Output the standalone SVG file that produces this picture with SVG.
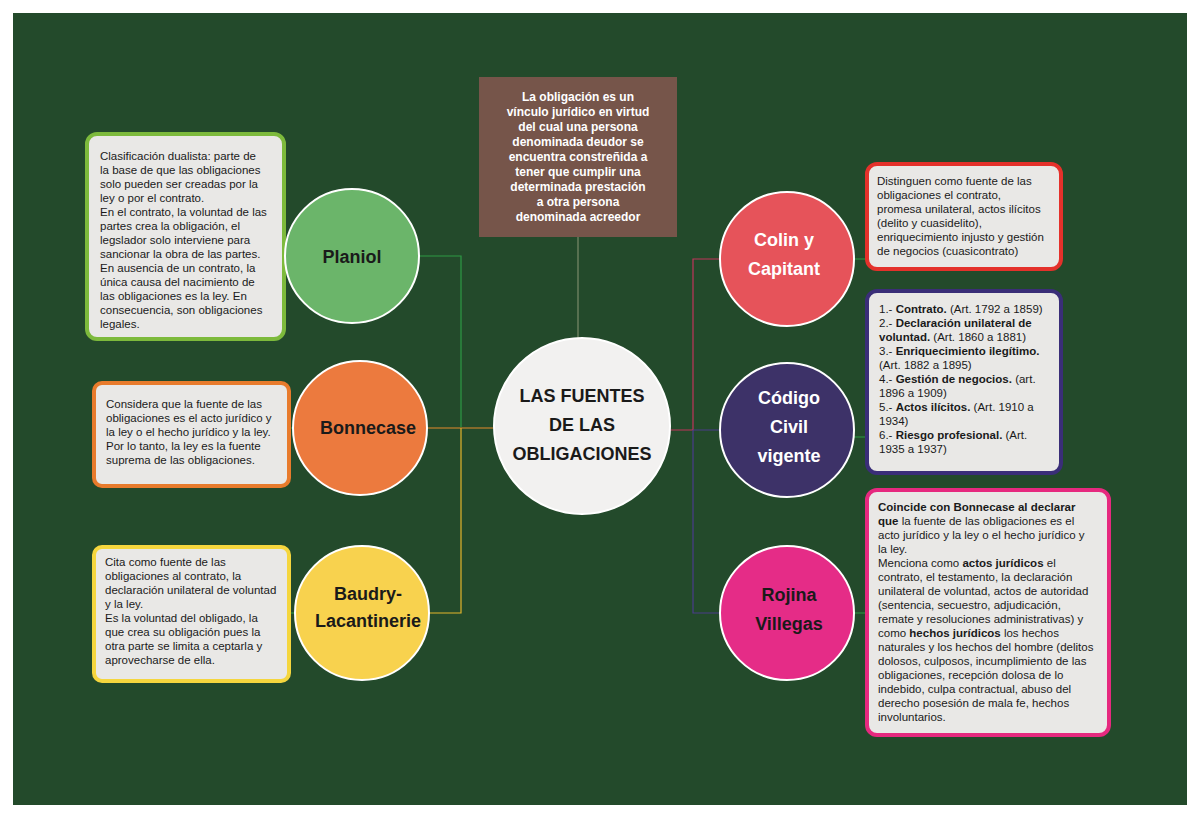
<svg xmlns="http://www.w3.org/2000/svg" width="1200" height="818" viewBox="0 0 1200 818">
<style>
.box{fill:#e9e8e6;stroke-width:4}
.t{font-family:"Liberation Sans",Arial,sans-serif;font-size:11.5px;fill:#1a1a1a}
.c{stroke:#fff;stroke-width:2}
.ct{font-family:"Liberation Sans",Arial,sans-serif;font-weight:bold;font-size:18px;text-anchor:middle}
.ln{fill:none;stroke-width:1.2}
b{font-weight:bold}
</style>
<rect width="1200" height="818" fill="#fff"/>
<rect x="13" y="13" width="1174" height="792" fill="#234a2b"/>
<g id="connectors">
<path class="ln" stroke="#7a8a6a" d="M578 237V338"/>
<path class="ln" stroke="#2e9a45" d="M419 256H461V427"/>
<path class="ln" stroke="#e38a2c" d="M427 428H494"/>
<path class="ln" stroke="#e3b52c" d="M461 428V613H429"/>
<path class="ln" stroke="#c0355a" d="M670 430H693V259H720"/>
<path class="ln" stroke="#4a3d8a" d="M693 430H720M693 430V613H720"/>
<path class="ln" stroke="#2e9a45" d="M285 256H300M290 428H293M290 613H295M854 259H866M854 437H866M854 613H866"/>
</g>
<g id="top"><rect x="479" y="77" width="198" height="160" fill="#76554a"/>
<text font-family="Liberation Sans,Arial,sans-serif" font-weight="bold" font-size="12px" fill="#fff" text-anchor="middle">
<tspan x="578" y="101">La obligación es un</tspan><tspan x="578" y="116">vínculo jurídico en virtud</tspan><tspan x="578" y="131">del cual una persona</tspan><tspan x="578" y="146">denominada deudor se</tspan><tspan x="578" y="161">encuentra constreñida a</tspan><tspan x="578" y="176">tener que cumplir una</tspan><tspan x="578" y="191">determinada prestación</tspan><tspan x="578" y="206">a otra persona</tspan><tspan x="578" y="221">denominada acreedor</tspan></text></g>
<g id="center"><circle class="c" cx="582" cy="426" r="88" fill="#f2f1f0"/>
<text class="ct" font-size="16px" fill="#1a1a1a"><tspan x="582" y="402">LAS FUENTES</tspan><tspan x="582" y="431">DE LAS</tspan><tspan x="582" y="460">OBLIGACIONES</tspan></text></g>
<g id="planiol"><rect class="box" x="87" y="134" width="197" height="205" rx="10" stroke="#7dba3c"/>
<text class="t"><tspan x="100" y="160">Clasificación dualista: parte de</tspan><tspan x="100" y="174">la base de que las obligaciones</tspan><tspan x="100" y="188">solo pueden ser creadas por la</tspan><tspan x="100" y="202">ley o por el contrato.</tspan><tspan x="100" y="216">En el contrato, la voluntad de las</tspan><tspan x="100" y="230">partes crea la obligación, el</tspan><tspan x="100" y="244">legslador solo interviene para</tspan><tspan x="100" y="258">sancionar la obra de las partes.</tspan><tspan x="100" y="272">En ausencia de un contrato, la</tspan><tspan x="100" y="286">única causa del nacimiento de</tspan><tspan x="100" y="300">las obligaciones es la ley. En</tspan><tspan x="100" y="314">consecuencia, son obligaciones</tspan><tspan x="100" y="328">legales.</tspan></text>
<circle class="c" cx="352" cy="256" r="67" fill="#6bb56a"/><text class="ct" x="352" y="263" fill="#1a1a1a">Planiol</text></g>
<g id="bonnecase"><rect class="box" x="94" y="383" width="195" height="103" rx="8" stroke="#e87b2c"/>
<text class="t"><tspan x="106" y="408">Considera que la fuente de las</tspan><tspan x="106" y="422">obligaciones es el acto jurídico y</tspan><tspan x="106" y="436">la ley o el hecho jurídico y la ley.</tspan><tspan x="106" y="450">Por lo tanto, la ley es la fuente</tspan><tspan x="106" y="464">suprema de las obligaciones.</tspan></text>
<circle class="c" cx="360" cy="428" r="67" fill="#ec7a3e"/><text class="ct" x="368" y="434" fill="#1a1a1a">Bonnecase</text></g>
<g id="baudry"><rect class="box" x="94" y="547" width="195" height="134" rx="8" stroke="#f5d63e"/>
<text class="t"><tspan x="105" y="566">Cita como fuente de las</tspan><tspan x="105" y="580">obligaciones al contrato, la</tspan><tspan x="105" y="594">declaración unilateral de voluntad</tspan><tspan x="105" y="608">y la ley.</tspan><tspan x="105" y="622">Es la voluntad del obligado, la</tspan><tspan x="105" y="636">que crea su obligación pues la</tspan><tspan x="105" y="650">otra parte se limita a ceptarla y</tspan><tspan x="105" y="664">aprovecharse de ella.</tspan></text>
<circle class="c" cx="362" cy="613" r="67" fill="#f8d24e"/><text class="ct" fill="#1a1a1a"><tspan x="368" y="600">Baudry-</tspan><tspan x="368" y="627">Lacantinerie</tspan></text></g>
<g id="colin"><rect class="box" x="867" y="164" width="194" height="105" rx="10" stroke="#e4312b"/>
<text class="t"><tspan x="877" y="185">Distinguen como fuente de las</tspan><tspan x="877" y="199">obligaciones el contrato,</tspan><tspan x="877" y="213">promesa unilateral, actos ilícitos</tspan><tspan x="877" y="227">(delito y cuasidelito),</tspan><tspan x="877" y="241">enriquecimiento injusto y gestión</tspan><tspan x="877" y="255">de negocios (cuasicontrato)</tspan></text>
<circle class="c" cx="787" cy="259" r="67" fill="#e6535a"/><text class="ct" fill="#fff"><tspan x="784" y="246">Colin y</tspan><tspan x="784" y="275">Capitant</tspan></text></g>
<g id="codigo"><rect class="box" x="867" y="291" width="194" height="182" rx="10" stroke="#3a2e78"/>
<text class="t"><tspan x="879" y="313">1.- <tspan font-weight="bold">Contrato.</tspan> (Art. 1792 a 1859)</tspan><tspan x="879" y="327">2.- <tspan font-weight="bold">Declaración unilateral de</tspan></tspan><tspan x="879" y="341" font-weight="bold">voluntad.<tspan font-weight="normal"> (Art. 1860 a 1881)</tspan></tspan><tspan x="879" y="355">3.- <tspan font-weight="bold">Enriquecimiento ilegítimo.</tspan></tspan><tspan x="879" y="369">(Art. 1882 a 1895)</tspan><tspan x="879" y="383">4.- <tspan font-weight="bold">Gestión de negocios.</tspan> (art.</tspan><tspan x="879" y="397">1896 a 1909)</tspan><tspan x="879" y="411">5.- <tspan font-weight="bold">Actos ilícitos.</tspan> (Art. 1910 a</tspan><tspan x="879" y="425">1934)</tspan><tspan x="879" y="439">6.- <tspan font-weight="bold">Riesgo profesional.</tspan> (Art.</tspan><tspan x="879" y="453">1935 a 1937)</tspan></text>
<circle class="c" cx="787" cy="430" r="67" fill="#3d3268"/><text class="ct" fill="#fff"><tspan x="789" y="404">Código</tspan><tspan x="789" y="433">Civil</tspan><tspan x="789" y="462">vigente</tspan></text></g>
<g id="rojina"><rect class="box" x="867" y="490" width="242" height="245" rx="10" stroke="#e6297f"/>
<text class="t"><tspan x="878" y="511" font-weight="bold">Coincide con Bonnecase al declarar</tspan><tspan x="878" y="525"><tspan font-weight="bold">que</tspan> la fuente de las obligaciones es el</tspan><tspan x="878" y="539">acto jurídico y la ley o el hecho jurídico y</tspan><tspan x="878" y="553">la ley.</tspan><tspan x="878" y="567">Menciona como  <tspan font-weight="bold">actos jurídicos</tspan> el</tspan><tspan x="878" y="581">contrato, el testamento, la declaración</tspan><tspan x="878" y="595">unilateral de voluntad, actos de autoridad</tspan><tspan x="878" y="609">(sentencia, secuestro, adjudicación,</tspan><tspan x="878" y="623">remate y resoluciones administrativas) y</tspan><tspan x="878" y="637">como  <tspan font-weight="bold">hechos jurídicos</tspan> los hechos</tspan><tspan x="878" y="651">naturales y los hechos del hombre (delitos</tspan><tspan x="878" y="665">dolosos, culposos, incumplimiento de las</tspan><tspan x="878" y="679">obligaciones, recepción dolosa de lo</tspan><tspan x="878" y="693">indebido, culpa contractual, abuso del</tspan><tspan x="878" y="707">derecho posesión de mala fe, hechos</tspan><tspan x="878" y="721">involuntarios.</tspan></text>
<circle class="c" cx="787" cy="613" r="67" fill="#e52c87"/><text class="ct" fill="#1a1a1a"><tspan x="789" y="601">Rojina</tspan><tspan x="789" y="630">Villegas</tspan></text></g>
</svg>
